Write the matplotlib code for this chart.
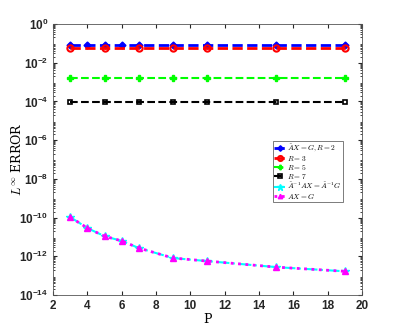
import matplotlib
matplotlib.use("Agg")
import matplotlib.pyplot as plt
import numpy as np
from matplotlib.ticker import LogLocator, FixedLocator

P_all = [3, 4, 5, 6, 7, 9, 11, 15, 19]
P_sub = [3, 5, 7, 9, 11, 15, 19]
err_R2 = [0.083] * 9
err_R3 = [0.058] * 7
err_R5 = [1.6e-3] * 7
err_R7 = [9.5e-5] * 7
err_inv = [1.07e-10, 2.9e-11, 1.1e-11, 6.3e-12, 2.7e-12, 8.2e-13, 5.7e-13, 2.8e-13, 1.7e-13]
err_AX = [1.07e-10, 2.9e-11, 1.1e-11, 6.3e-12, 2.7e-12, 8.2e-13, 5.7e-13, 2.8e-13, 1.7e-13]
labels = [r'$\tilde{A}X=G, R=2$', r'$R=3$', r'$R=5$', r'$R=7$',
          r'$\tilde{A}^{-1}AX=\tilde{A}^{-1}G$', r'$AX=G$']

plt.rcParams['mathtext.fontset'] = 'cm'
fig = plt.figure(figsize=(3.99, 3.32), dpi=100)
ax = fig.add_axes([0.133, 0.111, 0.774, 0.817])

ax.semilogy(P_all, err_R2, '--', color='blue', lw=2, marker='D', ms=3.5, mfc='blue', label=labels[0])
ax.semilogy(P_sub, err_R3, '--', color='red', lw=2, marker='o', ms=4.5, mfc='none', mew=1.5, label=labels[1])
ax.semilogy(P_sub, err_R5, '--', color='#00ff00', lw=1.5, marker='P', ms=4, label=labels[2])
ax.semilogy(P_sub, err_R7, '--', color='black', lw=1.5, marker='s', ms=3.5, mfc='none', mew=1.2, label=labels[3])
ax.semilogy(P_all, err_inv, '-.', color='cyan', lw=1.5, marker='*', ms=6, label=labels[4])
ax.semilogy(P_all, err_AX, ':', color='magenta', lw=2, marker='^', ms=4, label=labels[5])

ax.set_xlim(2, 20)
ax.set_ylim(1e-14, 1)
ax.set_xticks(range(2, 21, 2))
ax.yaxis.set_major_locator(FixedLocator([10.0**k for k in range(-14, 1, 2)]))
ax.yaxis.set_minor_locator(LogLocator(base=10, subs=np.arange(2, 10), numticks=50))
ax.tick_params(which='both', direction='in', top=True, right=True, colors='#262626')
ax.tick_params(which='major', length=3, labelsize=8.5)
ax.tick_params(which='minor', length=1.5)
for lab in ax.get_xticklabels() + ax.get_yticklabels():
    lab.set_fontweight('bold')
    lab.set_family('Liberation Sans')
for s in ax.spines.values():
    s.set_color('#555555')
    s.set_linewidth(0.6)

ax.set_xlabel('P', fontsize=9, fontname='DejaVu Serif', labelpad=1)
ax.set_ylabel(r'$L^{\infty}$ ERROR', fontsize=9, fontname='DejaVu Serif')
ax.yaxis.set_label_coords(-0.095, 0.5)

leg = ax.legend(loc='upper left', bbox_to_anchor=(0.712, 0.568), fontsize=5.4, frameon=True,
                fancybox=False, edgecolor='#404040', handlelength=1.4, handletextpad=0.3,
                borderpad=0.2, labelspacing=0.02, borderaxespad=0, markerscale=0.8)
leg.get_frame().set_linewidth(0.6)

fig.savefig('out.png', dpi=100)
